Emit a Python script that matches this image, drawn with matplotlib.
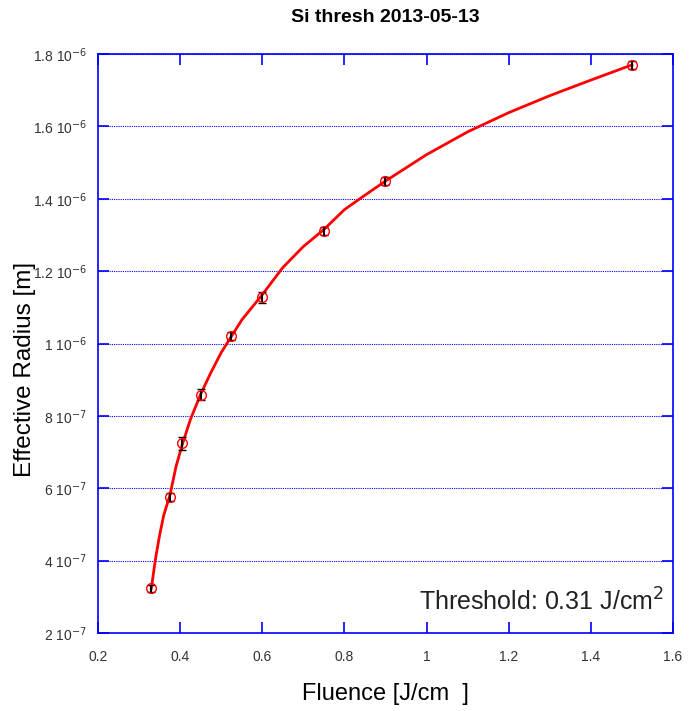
import numpy as np
import matplotlib.pyplot as plt

plt.rcParams['font.family'] = ['Liberation Sans', 'DejaVu Sans']

# measured points
fluence = [0.33, 0.375, 0.405, 0.45, 0.525, 0.6, 0.75, 0.9, 1.5]
radius = [3.24e-7, 5.76e-7, 7.25e-7, 8.58e-7, 1.021e-6, 1.128e-6, 1.311e-6, 1.449e-6, 1.77e-6]
radius_err = [1.0e-8, 1.0e-8, 1.8e-8, 1.5e-8, 1.0e-8, 1.5e-8, 1.0e-8, 1.0e-8, 1.0e-8]

# fit curve
fit_f = [0.33, 0.34, 0.35, 0.36, 0.375, 0.39, 0.405, 0.425, 0.45, 0.475, 0.5, 0.525, 0.55,
         0.6, 0.65, 0.7, 0.75, 0.8, 0.85, 0.9, 1.0, 1.1, 1.2, 1.3, 1.4, 1.5]
fit_r = [3.24e-7, 4.05e-7, 4.7e-7, 5.25e-7, 5.8e-7, 6.6e-7, 7.2e-7, 7.9e-7, 8.6e-7, 9.2e-7,
         9.75e-7, 1.02e-6, 1.065e-6, 1.135e-6, 1.21e-6, 1.268e-6, 1.315e-6, 1.37e-6, 1.41e-6,
         1.449e-6, 1.522e-6, 1.585e-6, 1.638e-6, 1.685e-6, 1.728e-6, 1.77e-6]

xticks = [0.2, 0.4, 0.6, 0.8, 1.0, 1.2, 1.4, 1.6]
xticklabels = ['0.2', '0.4', '0.6', '0.8', '1', '1.2', '1.4', '1.6']
yticks = [2e-7, 4e-7, 6e-7, 8e-7, 1e-6, 1.2e-6, 1.4e-6, 1.6e-6, 1.8e-6]
yticklabels = ['2 10$^{-7}$', '4 10$^{-7}$', '6 10$^{-7}$', '8 10$^{-7}$', '1 10$^{-6}$',
               '1.2 10$^{-6}$', '1.4 10$^{-6}$', '1.6 10$^{-6}$', '1.8 10$^{-6}$']

fig = plt.figure(figsize=(6.89, 7.11), dpi=100)
ax = fig.add_axes([0.1422, 0.1097, 0.8346, 0.8143])

ax.plot(fit_f, fit_r, color='red', lw=2, zorder=3)
ax.errorbar(fluence, radius, yerr=radius_err, fmt='o', mfc='none', mec='red', ms=7, mew=1,
            ecolor='black', elinewidth=1.5, capsize=3, capthick=1.5, zorder=4)

ax.set_xlim(0.2, 1.6)
ax.set_ylim(2e-7, 1.8e-6)
ax.set_xticks(xticks)
ax.set_xticklabels(xticklabels)
ax.set_yticks(yticks)
ax.set_yticklabels(yticklabels)
ax.tick_params(direction='in', length=8, width=1.2, color='blue', top=True, right=True,
               labelsize=10, labelcolor='#333333', pad=12)
ax.tick_params(axis='y', pad=8)
for s in ax.spines.values():
    s.set_color('blue')
    s.set_linewidth(1.2)
ax.yaxis.grid(True, color='blue', linestyle=(0, (1, 1)), linewidth=0.8)
ax.set_axisbelow(True)

ax.set_title('Si thresh 2013-05-13', fontsize=14, fontweight='bold', pad=23)
ax.set_xlabel('Fluence [J/cm  ]', fontsize=17, labelpad=14)
ax.set_ylabel('Effective Radius [m]', fontsize=17.5)
ax.yaxis.set_label_coords(-0.108, 0.455)
ax.text(0.985, 0.03, 'Threshold: 0.31 J/cm$^2$', transform=ax.transAxes, ha='right', va='bottom',
        fontsize=18, color='#222222')

fig.savefig('out.png', dpi=100)
